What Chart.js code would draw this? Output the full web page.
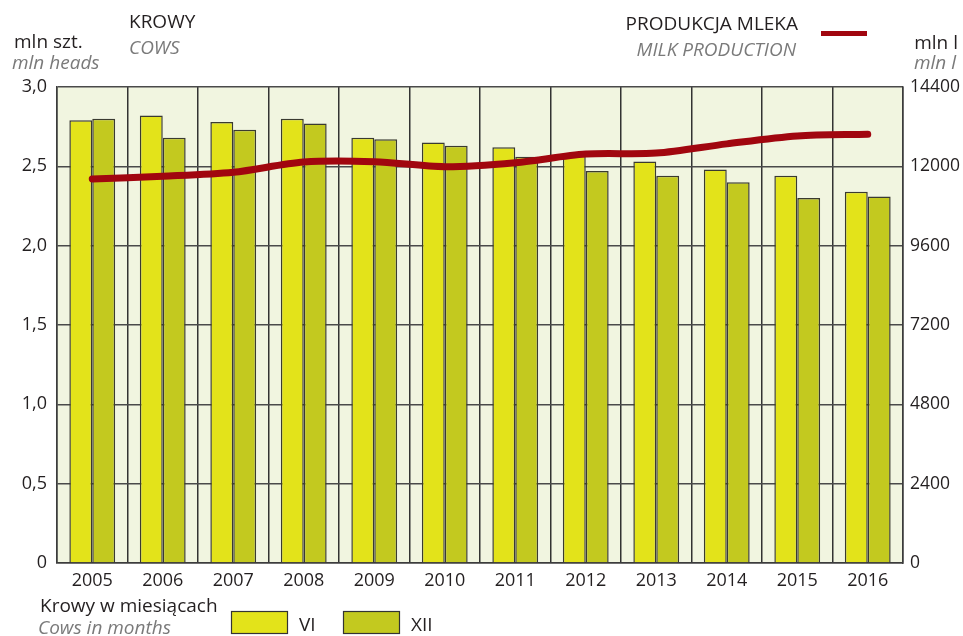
<!DOCTYPE html>
<html lang="pl">
<head>
<meta charset="utf-8">
<title>Krowy i produkcja mleka</title>
<script src="https://cdn.jsdelivr.net/npm/chart.js@4/dist/chart.umd.min.js"></script>
<style>
  html, body { margin: 0; padding: 0; background: #fff; }
  #wrap { position: relative; width: 963px; height: 636px; }
</style>
</head>
<body>
<div id="wrap"><canvas id="milkChart" width="963" height="636"></canvas></div>
<script>
// ---- data ----
const years = ['2005', '2006', '2007', '2008', '2009', '2010', '2011', '2012', '2013', '2014', '2015', '2016'];
const cowsJune = [2.79, 2.82, 2.78, 2.80, 2.68, 2.65, 2.62, 2.57, 2.53, 2.48, 2.44, 2.34];
const cowsDec  = [2.80, 2.68, 2.73, 2.77, 2.67, 2.63, 2.56, 2.47, 2.44, 2.40, 2.30, 2.31];
const milkProduction = [11620, 11700, 11820, 12130, 12140, 11990, 12110, 12370, 12400, 12680, 12920, 12970];
const cowTicks  = ['0', '0,5', '1,0', '1,5', '2,0', '2,5', '3,0'];
const milkTicks = ['0', '2400', '4800', '7200', '9600', '12000', '14400'];

const FONT = '"Open Sans", "Noto Sans", sans-serif';
const INK = '#231f20';
const GREY = '#7a7a7a';
const C_JUNE = '#e3e31a';
const C_DEC = '#c3c91f';
const C_MILK = '#a1060f';

// pale plot background
const plotBg = {
  id: 'plotBg',
  beforeDraw(chart) {
    const { ctx, chartArea: a } = chart;
    ctx.save();
    ctx.fillStyle = '#f1f5e0';
    ctx.fillRect(a.left, a.top, a.right - a.left, a.bottom - a.top);
    ctx.restore();
  }
};

// headings, units and legends around the plot
const labels = {
  id: 'labels',
  afterDraw(chart) {
    const ctx = chart.ctx;
    ctx.save();
    ctx.textBaseline = 'alphabetic';
    const txt = (s, x, y, align, italic, color, size) => {
      ctx.font = (italic ? 'italic ' : '') + (size || 19) + 'px ' + FONT;
      ctx.fillStyle = color;
      ctx.textAlign = align;
      ctx.fillText(s, x, y);
    };
    txt('KROWY', 129, 28, 'left', false, INK);
    txt('COWS', 129, 54, 'left', true, GREY);
    txt('mln szt.', 14, 48, 'left', false, INK);
    txt('mln heads', 12, 69, 'left', true, GREY);

    txt('PRODUKCJA MLEKA', 798, 30, 'right', false, INK);
    txt('MILK PRODUCTION', 796, 56, 'right', true, GREY);
    txt('mln l', 958, 49, 'right', false, INK);
    txt('mln l', 956, 69, 'right', true, GREY);

    // milk line legend
    ctx.fillStyle = C_MILK;
    ctx.fillRect(821, 31, 46, 5);

    txt('Krowy w miesiącach', 40, 612, 'left', false, INK);
    txt('Cows in months', 38, 634, 'left', true, GREY);

    const box = (x, fill, name) => {
      ctx.fillStyle = fill;
      ctx.fillRect(x, 611, 57, 23);
      ctx.strokeStyle = '#333';
      ctx.lineWidth = 1.2;
      ctx.strokeRect(x + 0.5, 611.5, 56, 22);
      txt(name, x + 68, 631, 'left', false, INK);
    };
    box(231, C_JUNE, 'VI');
    box(343, C_DEC, 'XII');
    ctx.restore();
  }
};

new Chart(document.getElementById('milkChart'), {
  type: 'bar',
  data: {
    labels: years,
    datasets: [
      {
        type: 'line',
        label: 'Produkcja mleka',
        data: milkProduction,
        yAxisID: 'yMilk',
        borderColor: C_MILK,
        borderWidth: 7,
        borderCapStyle: 'round',
        borderJoinStyle: 'round',
        tension: 0.3,
        pointRadius: 0,
        fill: false,
        order: 0
      },
      {
        label: 'VI',
        data: cowsJune,
        yAxisID: 'yCows',
        backgroundColor: C_JUNE,
        borderColor: '#3a3a30',
        borderWidth: 1.5,
        order: 1
      },
      {
        label: 'XII',
        data: cowsDec,
        yAxisID: 'yCows',
        backgroundColor: C_DEC,
        borderColor: '#3a3a30',
        borderWidth: 1.5,
        order: 1
      }
    ]
  },
  options: {
    responsive: false,
    animation: false,
    datasets: { bar: { categoryPercentage: 0.65, barPercentage: 1.0 } },
    layout: { padding: { top: 87, left: 0, right: 0, bottom: 0 } },
    plugins: { legend: { display: false }, tooltip: { enabled: false } },
    scales: {
      x: {
        grid: { color: '#333333', lineWidth: 1.5, drawTicks: false },
        border: { color: '#3c3c3c', width: 1.5 },
        ticks: { color: INK, font: { family: FONT, size: 18 }, padding: 7 },
        afterFit(s) { s.height = 73; }
      },
      yCows: {
        position: 'left',
        min: 0, max: 3,
        grid: { color: '#4a4a4a', lineWidth: 1.5, drawTicks: false },
        border: { color: '#3c3c3c', width: 1.5 },
        ticks: {
          stepSize: 0.5,
          color: INK,
          font: { family: FONT, size: 18 },
          padding: 10,
          callback: (v, i) => cowTicks[i]
        },
        afterFit(s) { s.width = 57; }
      },
      yMilk: {
        position: 'right',
        min: 0, max: 14400,
        grid: { display: false, drawTicks: false },
        border: { color: '#3c3c3c', width: 1.5 },
        ticks: {
          stepSize: 2400,
          color: INK,
          font: { family: FONT, size: 17.5 },
          padding: 7,
          callback: (v, i) => milkTicks[i]
        },
        afterFit(s) { s.width = 60; }
      }
    }
  },
  plugins: [plotBg, labels]
});
</script>
</body>
</html>
